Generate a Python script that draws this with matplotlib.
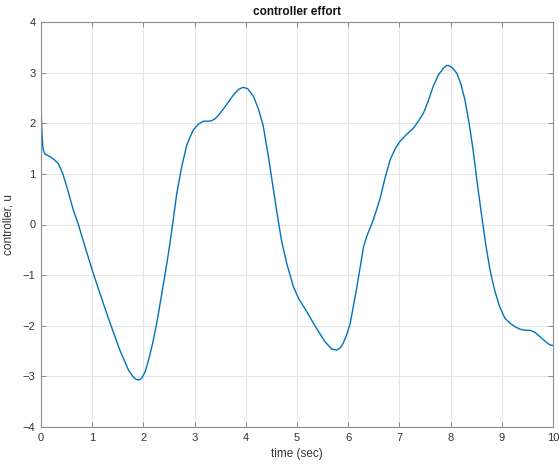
import numpy as np
import matplotlib
matplotlib.use("Agg")
import matplotlib.pyplot as plt

# controller output sampled over the 10 s run
t = [0.0, 0.01, 0.02, 0.035, 0.05, 0.08, 0.12, 0.18, 0.26, 0.34, 0.42, 0.50,
     0.63, 0.73, 0.86, 1.01, 1.15, 1.35, 1.54, 1.71, 1.80, 1.86, 1.92, 1.97,
     2.03, 2.10, 2.18, 2.26, 2.34, 2.42, 2.50, 2.57, 2.65, 2.75, 2.85, 2.97,
     3.07, 3.17, 3.27, 3.33, 3.40, 3.46, 3.56, 3.66, 3.76, 3.86, 3.95, 4.04,
     4.15, 4.25, 4.34, 4.44, 4.55, 4.63, 4.70, 4.80, 4.93, 5.03, 5.19, 5.38,
     5.55, 5.68, 5.78, 5.85, 5.90, 5.97, 6.04, 6.17, 6.30, 6.36, 6.49, 6.62,
     6.72, 6.82, 6.92, 7.01, 7.14, 7.27, 7.37, 7.47, 7.56, 7.66, 7.76, 7.86,
     7.92, 7.96, 8.03, 8.12, 8.20, 8.28, 8.36, 8.44, 8.52, 8.61, 8.69, 8.77,
     8.86, 8.96, 9.06, 9.16, 9.26, 9.36, 9.46, 9.55, 9.65, 9.75, 9.85, 9.94,
     10.0]
u = [2.36, 2.05, 1.78, 1.55, 1.45, 1.39, 1.37, 1.34, 1.28, 1.20, 1.02, 0.76,
     0.29, 0.00, -0.44, -0.93, -1.36, -1.95, -2.48, -2.88, -3.01, -3.06,
     -3.07, -3.03, -2.92, -2.68, -2.35, -1.95, -1.48, -1.00, -0.50, 0.00,
     0.60, 1.15, 1.58, 1.86, 1.98, 2.04, 2.04, 2.05, 2.09, 2.15, 2.28, 2.42,
     2.56, 2.67, 2.71, 2.68, 2.53, 2.27, 1.95, 1.35, 0.62, 0.10, -0.33,
     -0.77, -1.23, -1.46, -1.72, -2.05, -2.32, -2.46, -2.48, -2.43, -2.35,
     -2.18, -1.95, -1.23, -0.44, -0.24, 0.09, 0.50, 0.92, 1.28, 1.50, 1.64,
     1.78, 1.90, 2.04, 2.20, 2.43, 2.73, 2.95, 3.09, 3.14, 3.14, 3.10, 2.99,
     2.78, 2.46, 2.01, 1.47, 0.82, 0.15, -0.42, -0.90, -1.30, -1.63, -1.85,
     -1.95, -2.02, -2.07, -2.09, -2.09, -2.13, -2.22, -2.31, -2.38, -2.39]

xticks = np.arange(0, 11, 1)
yticks = np.arange(-4, 5, 1)

INK = "#333333"
AXIS = "#8c8c8c"
LINE = "#0072BD"

plt.rcParams["font.family"] = ["Liberation Sans", "DejaVu Sans"]

fig = plt.figure(figsize=(5.59, 4.66), dpi=100)
ax = fig.add_axes([41 / 559, 1 - 427 / 466, 512 / 559, 405 / 466])

ax.plot(t, u, color=LINE, lw=1.0)

ax.set_xlim(0, 10)
ax.set_ylim(-4, 4)
ax.set_xticks(xticks)
ax.set_yticks(yticks)
ax.grid(True, color="#e6e6e6", lw=0.8)
ax.set_axisbelow(True)
ax.tick_params(direction="in", length=3.5, width=0.7, colors=AXIS,
               labelcolor=INK, labelsize=8, top=True, right=True, pad=4)
for spine in ax.spines.values():
    spine.set_color(AXIS)
    spine.set_linewidth(0.8)

ax.set_title("controller effort", fontsize=8.5, fontweight="bold",
             color="#111111", pad=5)
ax.set_xlabel("time (sec)", fontsize=8.5, color=INK, labelpad=4)
ax.set_ylabel("controller, u", fontsize=8.5, color=INK, labelpad=6)

fig.savefig("out.png", dpi=100, facecolor="white")
